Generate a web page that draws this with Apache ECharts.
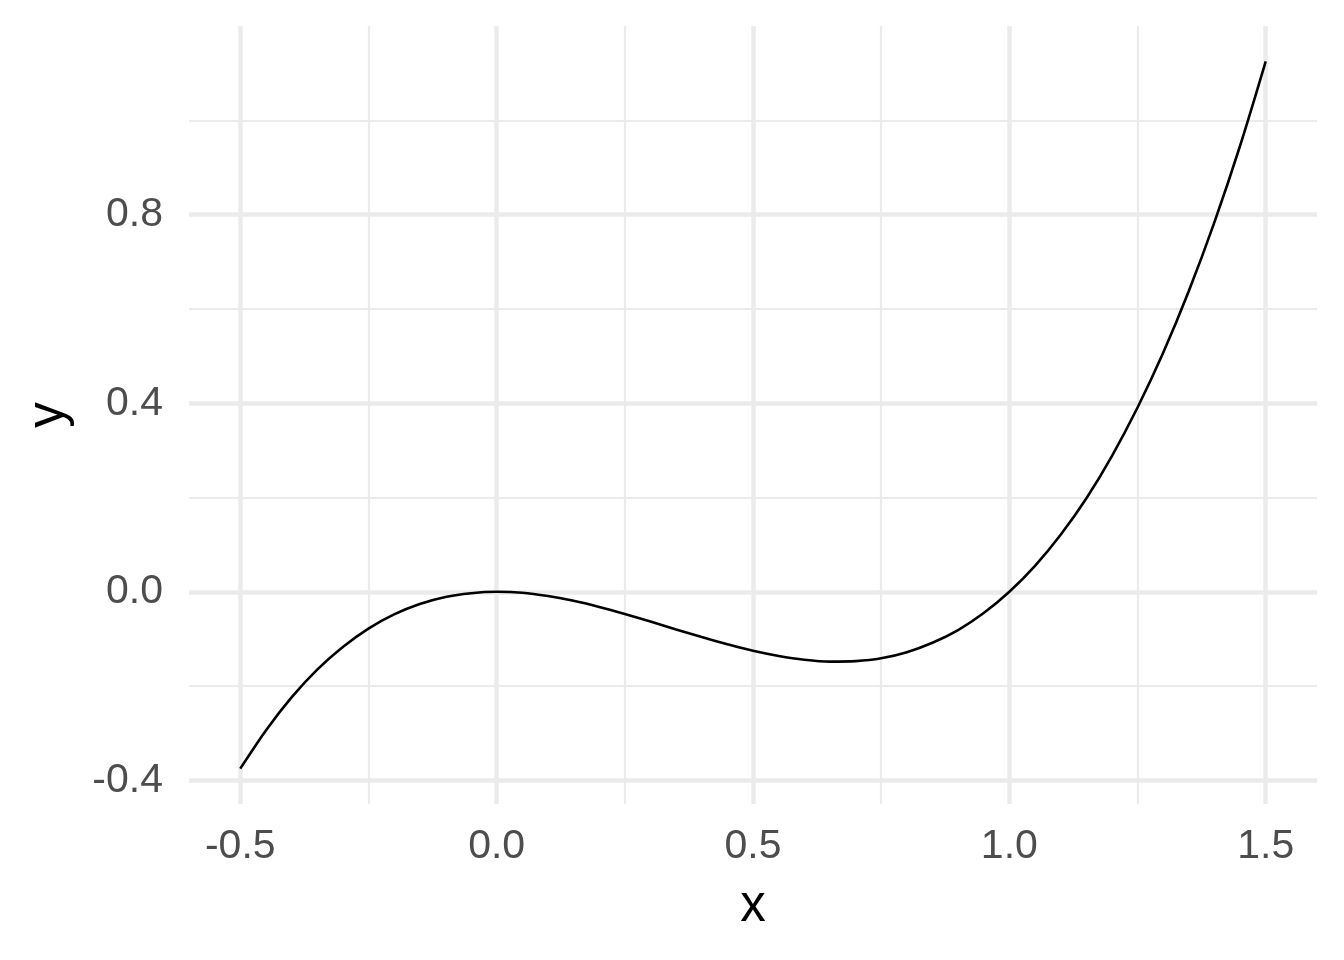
<!DOCTYPE html>
<html>
<head>
<meta charset="utf-8">
<script src="https://cdn.jsdelivr.net/npm/echarts@6/dist/echarts.min.js"></script>
<style>
  html, body { margin: 0; padding: 0; background: #fff; }
  #main { width: 1344px; height: 960px; }
</style>
</head>
<body>
<div id="main"></div>
<script>
// values
var xs = [-0.5, -0.45, -0.4, -0.35, -0.3, -0.25, -0.2, -0.15, -0.1, -0.05,
          0, 0.05, 0.1, 0.15, 0.2, 0.25, 0.3, 0.35, 0.4, 0.45,
          0.5, 0.55, 0.6, 0.65, 0.7, 0.75, 0.8, 0.85, 0.9, 0.95,
          1.0, 1.05, 1.1, 1.15, 1.2, 1.25, 1.3, 1.35, 1.4, 1.45, 1.5];
var ys = [-0.375, -0.294, -0.224, -0.165, -0.117, -0.078, -0.048, -0.026, -0.011, -0.003,
          0, -0.002, -0.009, -0.019, -0.032, -0.047, -0.063, -0.080, -0.096, -0.111,
          -0.125, -0.136, -0.144, -0.148, -0.147, -0.141, -0.128, -0.108, -0.081, -0.045,
          0, 0.055, 0.121, 0.198, 0.288, 0.391, 0.507, 0.638, 0.784, 0.946, 1.125];

var xMajor = [-0.5, 0, 0.5, 1.0, 1.5];
var xMinor = [-0.25, 0.25, 0.75, 1.25];
var yMajor = [-0.4, 0, 0.4, 0.8];
var yMinor = [-0.2, 0.2, 0.6, 1.0];

var chart = echarts.init(document.getElementById('main'));
var gridCol = '#ebebeb';
var font = 'Liberation Sans, Arial, sans-serif';

function fmt(v) { return (+v).toFixed(1); }

var pts = xs.map(function (x, i) { return [x, ys[i]]; });

var option = {
    animation: false,
    backgroundColor: '#fff',
    grid: { left: 189, right: 27, top: 26, bottom: 156 },
    xAxis: [
        {
            type: 'value', min: -0.6, max: 1.6,
            axisLine: { show: false }, axisTick: { show: false, customValues: xMajor },
            axisLabel: { customValues: xMajor, formatter: fmt, color: '#4d4d4d', fontSize: 41, fontFamily: font, margin: 22 },
            splitLine: { show: true, lineStyle: { color: gridCol, width: 4.5 } },
            name: 'x', nameLocation: 'middle', nameGap: 77,
            nameTextStyle: { color: '#000', fontSize: 51, fontFamily: font }
        },
        {
            type: 'value', min: -0.6, max: 1.6,
            axisLine: { show: false }, axisTick: { show: false, customValues: xMinor },
            axisLabel: { show: false, customValues: xMinor },
            splitLine: { show: true, lineStyle: { color: gridCol, width: 2.2 } }
        }
    ],
    yAxis: [
        {
            type: 'value', min: -0.45, max: 1.2,
            axisLine: { show: false }, axisTick: { show: false, customValues: yMajor },
            axisLabel: { customValues: yMajor, formatter: fmt, color: '#4d4d4d', fontSize: 41, fontFamily: font, margin: 26 },
            splitLine: { show: true, lineStyle: { color: gridCol, width: 4.5 } },
            name: 'y', nameLocation: 'middle', nameGap: 115, nameRotate: 90,
            nameTextStyle: { color: '#000', fontSize: 51, fontFamily: font }
        },
        {
            type: 'value', min: -0.45, max: 1.2,
            axisLine: { show: false }, axisTick: { show: false, customValues: yMinor },
            axisLabel: { show: false, customValues: yMinor },
            splitLine: { show: true, lineStyle: { color: gridCol, width: 2.2 } }
        }
    ],
    series: [{
        type: 'line',
        data: pts,
        smooth: 0.3,
        showSymbol: false,
        lineStyle: { color: '#000', width: 2.6 },
        z: 5
    }]
};
chart.setOption(option);
</script>
</body>
</html>
